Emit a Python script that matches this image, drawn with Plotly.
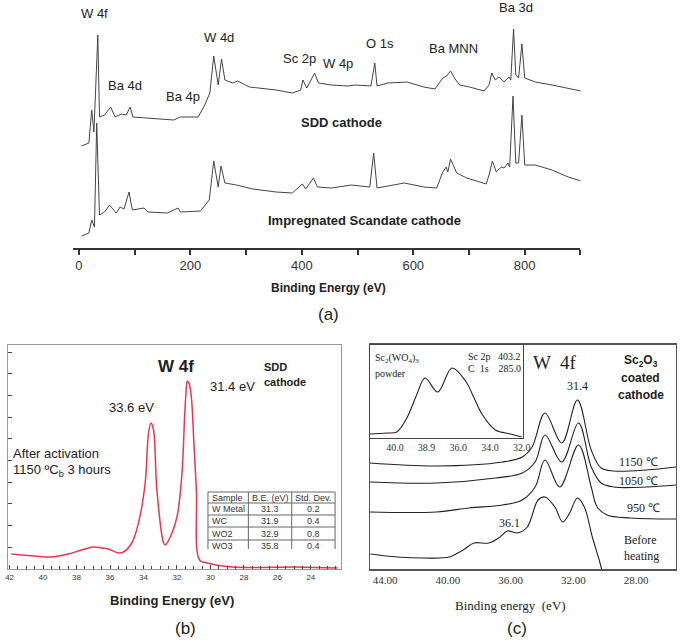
import plotly.graph_objects as go

W, H = 685, 643
def px(x): return x / W
def py(y): return 1 - y / H

# ---------------- Panel (a): survey spectra ----------------
a_ev = [5, 18, 23, 27, 34, 37, 46, 57, 65, 76, 85, 92, 97, 129, 170, 182, 214, 225, 235, 242, 250, 256, 262,
        276, 285, 306, 336, 354, 383, 398, 402, 409, 423, 430, 453, 483, 496, 524, 531, 535, 554, 589, 619, 639,
        653, 660, 667, 674, 683, 701, 727, 736, 741, 747, 754, 763, 772, 775, 780, 784, 789, 795, 800, 819, 849,
        878, 901]
a_sdd = [102, 105, 138, 116, 213, 131, 133, 141, 131, 134, 133, 141, 131, 130, 128, 131, 131, 142, 155, 192, 163,
         189, 168, 165, 167, 161, 159, 158, 155, 158, 168, 160, 175, 165, 163, 162, 163, 162, 185, 162, 165, 166,
         161, 159, 170, 172, 177, 170, 163, 161, 157, 163, 175, 168, 171, 166, 171, 168, 219, 173, 170, 204, 170,
         166, 163, 160, 157]
b_ev = [5, 18, 23, 28, 32, 37, 46, 55, 67, 74, 81, 90, 96, 117, 124, 159, 178, 182, 218, 234, 242, 250, 255, 262,
        283, 312, 354, 383, 401, 407, 421, 428, 453, 489, 522, 529, 535, 584, 619, 642, 653, 659, 662, 667, 678,
        696, 731, 737, 742, 749, 758, 763, 770, 773, 779, 784, 789, 795, 800, 819, 849, 878, 901]
a_imp = [12, 15, 28, 21, 125, 33, 36, 43, 35, 41, 39, 56, 38, 40, 36, 35, 40, 36, 37, 48, 87, 61, 82, 65,
         63, 59, 56, 55, 64, 59, 70, 61, 60, 63, 61, 95, 60, 65, 61, 60, 76, 81, 76, 89, 75,
         70, 64, 75, 87, 76, 81, 80, 85, 81, 152, 85, 85, 133, 83, 83, 78, 71, 67]
a_ticks = [0, 200, 400, 600, 800]
a_peaks = ["W 4f", "Ba 4d", "Ba 4p", "W 4d", "Sc 2p", "W 4p", "O 1s", "Ba MNN", "Ba 3d"]
a_peak_ev = [28, 82, 186, 252, 395, 465, 540, 672, 784]
a_peak_val = [235, 163, 152, 211, 190, 185, 205, 200, 241]

# ---------------- Panel (b): W 4f, SDD cathode ----------------
b_x = [41.9, 40.5, 39.5, 38.5, 37.7, 37.0, 36.5, 36.1, 35.5, 35.2, 34.7, 34.3, 33.9, 33.7, 33.55, 33.4, 33.2,
       32.8, 32.7, 32.4, 32.0, 31.7, 31.55, 31.47, 31.38, 31.25, 31.13, 31.0, 30.84, 30.65, 30.2, 28.7, 24.8, 22.4]
b_y = [15, 13, 12, 15, 19, 22, 21, 20, 16, 17, 26, 46, 86, 136, 146, 139, 79,
       26, 24, 32, 52, 96, 150, 174, 188, 184, 170, 130, 79, 9, 6, 2, 2, 1]
tbl_head = ["Sample", "B.E. (eV)", "Std. Dev."]
tbl_sample = ["W Metal", "WC", "WO2", "WO3"]
tbl_be = ["31.3", "31.9", "32.9", "35.8"]
tbl_sd = ["0.2", "0.4", "0.8", "0.4"]

# ---------------- Panel (c): Sc2O3 coated cathode ----------------
c_x1150 = [45.0, 40.73, 36.52, 35.26, 34.63, 33.81, 32.74, 31.74, 30.86, 30.23, 29.41, 27.33, 25.45]
c_y1150 = [106, 103, 107, 112, 122, 156, 126, 169, 119, 101, 98, 99, 102]
c_x1050 = [45.0, 40.73, 36.96, 35.26, 34.44, 33.81, 32.74, 31.67, 30.86, 30.23, 29.41, 27.33, 25.45]
c_y1050 = [87, 86, 91, 96, 107, 134, 107, 146, 102, 86, 82, 82, 84]
c_x950 = [45.0, 40.73, 38.65, 36.52, 35.26, 34.44, 33.81, 32.87, 31.67, 30.86, 30.48, 29.85, 28.34, 25.45]
c_y950 = [57, 57, 61, 64, 69, 82, 109, 82, 124, 82, 62, 54, 51, 50]
c_xbh = [44.94, 43.25, 41.55, 39.91, 39.03, 38.34, 37.40, 36.77, 36.20, 35.57, 34.94, 34.25, 33.81, 33.18,
         32.68, 32.24, 31.74, 31.30, 30.79, 30.35, 30.2]
c_ybh = [15, 12, 11, 12, 19, 26, 26, 31, 38, 36, 42, 69, 72, 62, 47, 56, 71, 62, 32, 9, 0]
c_labels = ["1150 ℃", "1050 ℃", "950 ℃", "Before<br>heating"]
c_ticks = [44, 40, 36, 32, 28]
c_ticktext = ["44.00", "40.00", "36.00", "32.00", "28.00"]
ins_x = [41.6, 40.5, 39.88, 39.25, 38.63, 38.1, 37.3, 36.4, 35.5, 35.09, 34.47, 33.66, 32.7, 32.0]
ins_y = [4, 5, 6, 20, 43, 60, 46, 70, 56, 43, 23, 8, 4, 1]
ins_ticks = [40, 38, 36, 34, 32]
ins_ticktext = ["40.0", "38.9", "36.0", "34.0", "32.0"]

sans = "Liberation Sans"
serif = "Liberation Serif"
TOP = 345

fig = go.Figure()
fig.add_trace(go.Scatter(x=a_ev, y=a_sdd, mode="lines", line=dict(color="#444", width=1), xaxis="x", yaxis="y"))
fig.add_trace(go.Scatter(x=b_ev, y=a_imp, mode="lines", line=dict(color="#444", width=1), xaxis="x", yaxis="y"))
fig.add_trace(go.Scatter(x=b_x, y=b_y, mode="lines", line=dict(color="#e8384f", width=1.5, shape="spline"),
                         xaxis="x2", yaxis="y2"))
for xs, ys in [(c_x1150, c_y1150), (c_x1050, c_y1050), (c_x950, c_y950), (c_xbh, c_ybh)]:
    fig.add_trace(go.Scatter(x=xs, y=ys, mode="lines", line=dict(color="#222", width=1.1, shape="spline"),
                             xaxis="x3", yaxis="y3"))
fig.add_trace(go.Scatter(x=ins_x, y=ins_y, mode="lines", line=dict(color="#222", width=1.1, shape="spline"),
                         xaxis="x4", yaxis="y4"))

layout = dict(
    width=W, height=H, margin=dict(l=0, r=0, t=0, b=0), showlegend=False,
    paper_bgcolor="white", plot_bgcolor="rgba(0,0,0,0)",
    xaxis=dict(domain=[px(71), px(586)], range=[-10.6, 900], showline=True, linecolor="#333", linewidth=1.5,
               ticks="outside", ticklen=5, tickwidth=1.5, tickcolor="#333", tickvals=a_ticks,
               minor=dict(dtick=100, tick0=0, ticks="outside", ticklen=5, tickwidth=1.5, tickcolor="#333"),
               showgrid=False, zeroline=False, tickfont=dict(family=sans, size=13, color="#333"), anchor="y"),
    yaxis=dict(domain=[py(248), 1], range=[0, 248], visible=False, anchor="x"),
    xaxis2=dict(domain=[px(5), px(343)], range=[42.1, 22.2], showline=True, mirror=True, linecolor="#999",
                linewidth=1, ticks="inside", ticklen=4, tickcolor="#444", dtick=2, tick0=0,
                minor=dict(dtick=0.5, ticks="inside", ticklen=3, tickcolor="#444"),
                showgrid=False, zeroline=False, tickfont=dict(family=sans, size=8, color="#333"), anchor="y2"),
    yaxis2=dict(domain=[py(569), py(TOP)], range=[0, 569 - TOP], showline=True, mirror=True, linecolor="#999",
                ticks="inside", ticklen=4, tickcolor="#444", tick0=0, dtick=21.7, showticklabels=False,
                showgrid=False, zeroline=False, anchor="x2"),
    xaxis3=dict(domain=[px(372), px(683)], range=[45.0, 25.45], showline=True, mirror=True, linecolor="#555",
                linewidth=1.5, ticks="", tickvals=c_ticks, ticktext=c_ticktext, showgrid=False, zeroline=False,
                tickfont=dict(family=serif, size=11, color="#333"), anchor="y3"),
    yaxis3=dict(domain=[py(569), py(TOP)], range=[0, 569 - TOP], showline=True, mirror=True, linecolor="#555",
                showticklabels=False, ticks="", showgrid=False, zeroline=False, anchor="x3"),
    xaxis4=dict(domain=[px(372), px(528)], range=[41.6, 31.9], showline=True, mirror=True, linecolor="#444",
                linewidth=1, ticks="", tickvals=ins_ticks, ticktext=ins_ticktext, showgrid=False, zeroline=False,
                tickfont=dict(family=serif, size=10, color="#333"), anchor="y4"),
    yaxis4=dict(domain=[py(438), py(TOP)], range=[0, 438 - TOP], showline=True, mirror=True, linecolor="#444",
                showticklabels=False, ticks="", showgrid=False, zeroline=False, anchor="x4"),
)
fig.update_layout(**layout)

ann = []
shapes = []
def t(x, y, text, size=12, family=sans, bold=False, anchor="center", color="#222", bg=None):
    if bold:
        text = "<b>" + text + "</b>"
    d = dict(x=px(x), y=py(y), xref="paper", yref="paper", text=text, showarrow=False,
             font=dict(family=family, size=size, color=color), xanchor=anchor, yanchor="middle", align="left")
    if bg:
        d["bgcolor"] = bg
    ann.append(d)

for lab, e, v in zip(a_peaks, a_peak_ev, a_peak_val):
    ann.append(dict(x=e, y=v, xref="x", yref="y", text=lab, showarrow=False,
                    font=dict(family=sans, size=13, color="#222")))
t(344, 122, "SDD cathode", 13, bold=True)
t(367, 221, "Impregnated Scandate cathode", 13, bold=True)
t(330, 288, "Binding Energy (eV)", 12, bold=True)
t(330, 314, "(a)", 17)

# (b) texts
t(176, 366, "W 4f", 17, bold=True)
t(263, 367, "SDD", 11, bold=True, anchor="left")
t(263, 382, "cathode", 11, bold=True, anchor="left")
t(130, 407, "33.6 eV", 13, bg="white")
t(233, 386, "31.4 eV", 13, bg="white")
t(8, 453, "After activation", 13, anchor="left")
t(8, 470, "1150 ºC<sub>b</sub> 3 hours", 13, anchor="left")
t(172, 600, "Binding Energy (eV)", 13, bold=True)
t(185, 628, "(b)", 17)

# table in (b), drawn with shapes + text
tx0, tx1 = 208, 337
col_b = [208, 249, 293, 337]
row_b = [492, 503, 515, 527, 540, 552]
shapes.append(dict(type="rect", xref="paper", yref="paper", x0=px(tx0), x1=px(tx1), y0=py(549), y1=py(492),
                   line=dict(width=0), fillcolor="white", layer="below"))
for yb in row_b[:-1]:
    shapes.append(dict(type="line", xref="paper", yref="paper", x0=px(tx0), x1=px(tx1), y0=py(yb), y1=py(yb),
                       line=dict(color="#666", width=1)))
for xb in col_b:
    shapes.append(dict(type="line", xref="paper", yref="paper", x0=px(xb), x1=px(xb), y0=py(492), y1=py(549),
                       line=dict(color="#666", width=1)))
rows = [tbl_head] + [list(r) for r in zip(tbl_sample, tbl_be, tbl_sd)]
for i, row in enumerate(rows):
    yc = (row_b[i] + row_b[i + 1]) / 2
    t(210, yc, row[0], 9, anchor="left", color="#333")
    t((col_b[1] + col_b[2]) / 2, yc, row[1], 9, color="#333")
    t((col_b[2] + col_b[3]) / 2, yc, row[2], 9, color="#333")

# (c) texts
t(375, 358, "Sc<sub>2</sub>(WO<sub>4</sub>)<sub>3</sub>", 10, family=serif, anchor="left")
t(375, 373, "powder", 10, family=serif, anchor="left")
t(470, 356, "Sc 2p   403.2", 10, family=serif, anchor="left")
t(470, 368, "C  1s    285.0", 10, family=serif, anchor="left")
t(560, 362, "W  4f", 19, family=serif)
t(628, 361, "Sc<sub>2</sub>O<sub>3</sub>", 12, bold=True, anchor="left")
t(625, 378, "coated", 12, bold=True, anchor="left")
t(622, 395, "cathode", 12, bold=True, anchor="left")
t(583, 386, "31.4", 12, family=serif)
t(514, 523, "36.1", 12, family=serif)
t(645, 462, c_labels[0], 12, family=serif)
t(645, 481, c_labels[1], 12, family=serif)
t(650, 508, c_labels[2], 12, family=serif)
t(648, 548, c_labels[3], 12, family=serif)
t(515, 605, "Binding energy  (eV)", 13, family=serif)
t(522, 628, "(c)", 17)

fig.update_layout(annotations=ann, shapes=shapes)
fig.write_html("out.html", config={"displayModeBar": False},
               post_script="document.body.style.margin='0';document.body.style.overflow='hidden';")
